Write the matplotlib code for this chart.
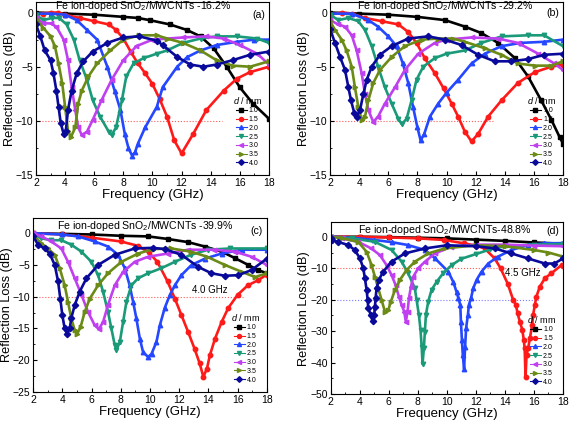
import matplotlib
matplotlib.use("Agg")
import matplotlib.pyplot as plt
from matplotlib.ticker import MultipleLocator

plt.rcParams['font.family'] = ['Liberation Sans', 'DejaVu Sans']
plt.rcParams['mathtext.fontset'] = 'custom'
plt.rcParams['mathtext.rm'] = 'Liberation Sans'
plt.rcParams['mathtext.it'] = 'Liberation Sans:italic'

thickness = ['1.0', '1.5', '2.0', '2.5', '3.0', '3.5', '4.0']
colors = ['#000000', '#ff1a1a', '#2447ff', '#1a9a78', '#c040f0', '#6b8a16', '#0a0a9a']
markers = ['s', 'o', '^', 'v', '<', '>', 'D']

# ---- panel (a): -16.2% ----
a10_f = [2, 4, 6, 8, 9, 9.8, 11.2, 12.35, 13.3, 14.2, 15.1, 16, 16.9, 18]
a10_rl = [0, -0.1, -0.2, -0.4, -0.5, -0.7, -1.1, -1.6, -2.2, -3.3, -5.0, -6.9, -8.4, -9.8]
a15_f = [2, 2.5, 3, 3.5, 4, 5, 6, 7, 7.5, 8, 8.5, 9, 9.5, 10, 10.5, 11, 11.5, 12, 12.8, 13.7, 14.9, 15.8, 16.7, 18]
a15_rl = [-0.2, -0.1, 0, 0, -0.2, -0.5, -0.8, -1.1, -1.6, -2.4, -3.6, -4.7, -5.6, -6.6, -8.0, -9.6, -11.8, -13.0, -11.2, -9.0, -7.2, -6.1, -5.5, -5.0]
a20_f = [2, 3, 4, 4.8, 5.5, 6.2, 6.9, 7.4, 7.8, 8.1, 8.35, 8.6, 8.8, 9.0, 9.5, 10.3, 10.7, 11.7, 12.4, 13.3, 14.4, 15.8, 17, 18]
a20_rl = [-0.1, -0.1, -0.2, -0.7, -1.6, -2.5, -5.0, -7.2, -9.0, -11.2, -12.5, -13.2, -12.9, -12.1, -10.6, -8.7, -6.9, -5.0, -4.1, -3.5, -3.0, -2.7, -2.5, -2.5]
a25_f = [2, 2.5, 3.1, 3.6, 4.1, 4.6, 5.0, 5.5, 5.9, 6.4, 7.0, 7.2, 7.5, 7.9, 8.2, 8.7, 9.4, 10.3, 11, 12.1, 13.3, 14.4, 15.8, 17.2, 18]
a25_rl = [-0.2, -0.7, -0.5, -0.5, -1.1, -2.5, -4.4, -6.2, -8.1, -9.6, -11.0, -11.3, -10.6, -8.1, -5.9, -4.7, -4.2, -3.8, -3.5, -2.8, -2.4, -2.2, -2.2, -2.4, -2.8]
a30_f = [2, 2.5, 3.0, 3.4, 3.9, 4.2, 4.45, 4.7, 4.9, 5.15, 5.5, 5.9, 6.5, 7.2, 8.0, 8.9, 10.0, 12.1, 13.7, 14.9, 16, 17.2, 18]
a30_rl = [-0.5, -1.0, -1.0, -1.3, -2.5, -4.4, -6.9, -9.0, -10.6, -11.3, -11.0, -9.9, -8.1, -6.2, -4.4, -3.1, -2.5, -2.3, -2.2, -2.4, -3.0, -3.8, -4.8]
a35_f = [2, 2.5, 3.0, 3.3, 3.55, 3.8, 4.0, 4.2, 4.4, 4.7, 4.9, 5.15, 5.6, 6.2, 7.1, 8.0, 9.1, 10.3, 11, 12.1, 13.3, 14.4, 15.5, 16.7, 18]
a35_rl = [-0.6, -1.4, -2.2, -3.1, -4.7, -6.5, -8.7, -10.9, -11.5, -10.6, -8.4, -7.2, -5.9, -4.7, -3.5, -2.5, -2.1, -2.1, -2.4, -2.8, -3.5, -4.4, -4.9, -5.0, -4.5]
a40_f = [2, 2.3, 2.6, 3.0, 3.2, 3.4, 3.55, 3.7, 3.9, 4.05, 4.2, 4.45, 4.8, 5.25, 5.9, 6.9, 8.0, 9.1, 10.3, 10.7, 11.7, 12.6, 13.5, 14.4, 15.5, 16.7, 18]
a40_rl = [-1.1, -2.2, -3.5, -4.4, -5.6, -7.2, -8.7, -10.2, -11.2, -10.9, -9.0, -7.2, -5.6, -4.5, -3.6, -2.8, -2.3, -2.2, -2.6, -3.0, -4.1, -4.8, -5.0, -4.8, -4.4, -3.9, -3.6]

# ---- panel (b): -29.2% ----
b10_f = [2, 4, 6, 8, 9.9, 11.26, 12.4, 13.54, 14.69, 15.6, 16.5, 17.2, 17.77, 18]
b10_rl = [0, -0.1, -0.2, -0.4, -0.7, -1.3, -1.9, -2.8, -4.2, -5.9, -8.1, -9.9, -11.5, -12.1]
b15_f = [2, 2.8, 3.5, 4.4, 5.55, 6.7, 7.37, 7.94, 8.5, 9.2, 9.8, 10.35, 10.8, 11.26, 11.72, 12.17, 12.86, 13.78, 14.9, 16.06, 17.2, 18]
b15_rl = [-0.2, 0, -0.1, -0.5, -0.8, -1.1, -1.8, -2.8, -4.2, -5.6, -7.0, -8.4, -9.6, -11.0, -11.9, -11.2, -9.6, -8.1, -6.5, -5.5, -5.0, -4.8]
b20_f = [2, 3.5, 4.63, 5.3, 6.0, 6.57, 7.0, 7.37, 7.7, 8.0, 8.22, 8.47, 8.86, 9.43, 10.0, 10.8, 11.72, 12.63, 13.78, 15.1, 16.7, 18]
b20_rl = [-0.1, -0.1, -0.7, -1.3, -2.2, -3.1, -4.7, -6.5, -8.7, -10.6, -11.8, -11.2, -9.6, -8.4, -7.4, -6.2, -4.7, -3.8, -3.1, -2.8, -2.7, -2.5]
b25_f = [2, 2.57, 3.26, 3.94, 4.4, 4.86, 5.3, 5.77, 6.23, 6.69, 6.92, 7.26, 7.6, 7.94, 8.4, 9.2, 10.0, 11.26, 12.4, 13.78, 15.6, 16.7, 18]
b25_rl = [-0.2, -0.7, -0.5, -0.8, -1.6, -3.1, -5.0, -6.9, -8.4, -9.8, -10.3, -9.8, -8.1, -6.2, -5.0, -4.2, -3.8, -3.5, -2.8, -2.2, -2.1, -2.1, -3.1]
b30_f = [2, 2.57, 3.03, 3.49, 3.83, 4.17, 4.4, 4.63, 4.97, 5.3, 5.77, 6.46, 7.14, 8.06, 9.2, 10.0, 11.72, 13.54, 14.9, 16.3, 17.4, 18]
b30_rl = [-0.7, -1.1, -1.3, -2.1, -3.5, -5.6, -7.5, -9.0, -10.1, -9.6, -8.4, -6.9, -5.3, -3.8, -2.8, -2.5, -2.3, -2.4, -2.8, -3.8, -4.7, -5.3]
b35_f = [2, 2.34, 2.8, 3.14, 3.49, 3.71, 3.94, 4.17, 4.4, 4.63, 4.97, 5.43, 6.23, 7.14, 8.29, 9.43, 10.46, 11.26, 12.63, 13.78, 14.9, 16.06, 17.2, 18]
b35_rl = [-0.8, -1.6, -2.5, -3.5, -5.0, -6.9, -8.7, -9.9, -9.6, -8.1, -6.5, -5.3, -4.1, -3.1, -2.5, -2.4, -2.4, -2.7, -3.3, -3.9, -4.7, -4.9, -4.9, -4.5]
b40_f = [2, 2.34, 2.69, 3.03, 3.26, 3.44, 3.67, 3.83, 4.06, 4.29, 4.52, 4.86, 5.43, 6.23, 7.37, 8.74, 9.9, 11.03, 12.17, 13.3, 14.46, 15.6, 16.7, 18]
b40_rl = [-1.5, -2.8, -4.1, -5.3, -6.9, -8.1, -9.3, -9.6, -9.0, -7.5, -6.2, -5.0, -3.9, -3.1, -2.4, -2.2, -2.5, -3.0, -3.9, -4.5, -4.5, -4.3, -3.9, -3.8]

# ---- panel (c): -39.9% ----
c10_f = [2, 4, 6, 8, 9.87, 11.2, 12.6, 13.76, 14.9, 15.8, 16.73, 17.4, 18]
c10_rl = [0, -0.1, -0.2, -0.4, -0.5, -0.9, -1.4, -2.1, -2.9, -3.9, -5.0, -5.8, -6.3]
c15_f = [2, 4, 6, 8, 9.2, 9.9, 10.5, 11.2, 11.7, 12.15, 12.6, 13.05, 13.4, 13.65, 13.9, 14.1, 14.45, 14.9, 15.35, 16.0, 16.7, 17.4, 18]
c15_rl = [0, -0.2, -0.7, -1.3, -2.0, -3.0, -4.5, -7.6, -10.3, -12.9, -15.5, -18.2, -20.5, -22.6, -21.3, -19.2, -16.6, -14.0, -11.8, -9.7, -8.2, -7.4, -6.5]
c20_f = [2, 4, 5.07, 6.21, 7.12, 7.81, 8.27, 8.6, 8.84, 9.06, 9.3, 9.52, 9.87, 10.1, 10.44, 10.67, 11.0, 11.36, 11.7, 12.15, 12.84, 13.76, 14.9, 16.3, 18]
c20_rl = [0, -0.2, -0.5, -1.3, -2.1, -3.4, -5.5, -8.2, -10.8, -13.4, -16.6, -18.7, -19.5, -19.0, -17.1, -14.5, -11.8, -9.7, -8.2, -6.6, -5.0, -4.0, -3.2, -2.6, -2.6]
c25_f = [2, 2.55, 3.23, 3.92, 4.6, 5.3, 5.98, 6.44, 6.78, 7.12, 7.35, 7.58, 7.7, 7.93, 8.15, 8.38, 8.72, 9.18, 9.87, 10.78, 11.7, 12.8, 13.96, 15.5, 18]
c25_rl = [-0.2, -0.8, -1.1, -1.1, -1.8, -2.9, -4.5, -6.6, -9.2, -12.4, -15.0, -17.6, -18.4, -17.1, -14.0, -10.8, -8.2, -7.1, -6.3, -5.5, -4.5, -3.4, -2.6, -2.4, -2.4]
c30_f = [2, 2.55, 3.23, 3.92, 4.38, 4.84, 5.3, 5.75, 6.21, 6.49, 6.78, 7.12, 7.58, 8.15, 8.95, 9.87, 11.2, 12.6, 14.4, 15.8, 16.95, 18]
c30_rl = [0, -0.5, -1.3, -2.4, -4.5, -7.1, -9.7, -12.4, -14.5, -15.1, -14.0, -11.3, -8.2, -6.1, -4.5, -3.7, -3.2, -2.6, -2.6, -2.9, -3.7, -5.0]
c35_f = [2, 2.55, 3.0, 3.47, 3.81, 4.15, 4.38, 4.6, 4.84, 5.02, 5.25, 5.52, 5.87, 6.44, 7.12, 8.04, 9.18, 10.2, 11.45, 12.8, 13.9, 15.13, 16.3, 17.2, 18]
c35_rl = [-0.3, -1.6, -2.4, -3.4, -5.5, -8.2, -10.8, -13.4, -15.3, -15.8, -14.7, -12.4, -10.3, -8.2, -6.3, -4.5, -3.2, -2.5, -2.4, -2.9, -3.7, -5.0, -6.1, -6.9, -6.3]
c40_f = [2, 2.32, 2.78, 3.12, 3.47, 3.7, 3.85, 3.99, 4.15, 4.31, 4.5, 4.6, 4.84, 5.18, 5.64, 6.44, 7.58, 8.95, 10.2, 11.0, 12.15, 13.3, 14.2, 15.13, 16.05, 16.95, 18]
c40_rl = [-0.5, -1.8, -2.4, -3.2, -5.0, -7.6, -10.3, -12.9, -15.0, -15.8, -15.0, -13.4, -11.3, -9.2, -7.1, -5.0, -3.4, -2.4, -2.3, -2.5, -3.4, -5.3, -6.3, -6.7, -6.6, -5.8, -4.0]

# ---- panel (d): -48.8% ----
d10_f = [2, 4, 6, 8, 10, 12, 14, 16, 18]
d10_rl = [0, 0, -0.1, -0.3, -0.5, -0.9, -1.3, -1.8, -2.2]
d15_f = [2, 4, 6, 8, 9.8, 11.2, 12.0, 12.6, 13.3, 13.7, 14.2, 14.57, 14.76, 14.87, 15.03, 15.2, 15.3, 15.36, 15.42, 15.49, 15.6, 15.72, 15.88, 15.94, 16.06, 16.17, 16.4, 16.75, 17.2, 17.9, 18]
d15_rl = [0, 0, -0.2, -0.5, -1.0, -2.1, -2.8, -3.7, -6.9, -10.0, -15.0, -20.1, -21.7, -24.3, -27.0, -29.6, -32.8, -35.5, -44.6, -37.6, -35.4, -32.3, -28.0, -24.9, -21.7, -19.0, -15.9, -13.2, -11.6, -9.0, -9.3]
d20_f = [2, 3.5, 5, 6.2, 7.3, 8.5, 9.2, 10.1, 10.44, 10.67, 10.8, 10.93, 10.97, 11.04, 11.1, 11.19, 11.26, 11.33, 11.45, 11.52, 11.66, 11.82, 12.05, 12.39, 12.85, 13.53, 14.45, 15.6, 16.7, 18]
d20_rl = [0, -0.3, -1.0, -1.7, -2.6, -4.2, -6.9, -11.1, -14.3, -17.5, -19.6, -21.7, -27.0, -32.8, -37.5, -42.1, -34.9, -29.0, -24.9, -21.7, -19.6, -16.4, -13.7, -11.1, -8.5, -6.3, -4.2, -2.6, -2.1, -2.0]
d25_f = [2, 3.5, 5.05, 6.2, 6.89, 7.34, 7.8, 7.92, 8.08, 8.19, 8.27, 8.33, 8.42, 8.49, 8.56, 8.72, 8.95, 9.3, 9.75, 10.33, 11, 12, 13, 14, 16, 18]
d25_rl = [0, -0.5, -1.6, -4.2, -7.9, -11.6, -16.4, -20.1, -24.9, -29.6, -35.0, -40.5, -35.4, -30.2, -24.9, -20.6, -16.9, -14.3, -11.6, -9.0, -7.0, -5.5, -4.0, -3.0, -2.5, -2.3]
d30_f = [2, 2.8, 3.9, 4.8, 5.39, 5.85, 6.2, 6.47, 6.7, 6.89, 7.07, 7.18, 7.3, 7.39, 7.53, 7.69, 8.03, 8.5, 9.18, 10.3, 12, 14, 16, 18]
d30_rl = [0, -0.5, -1.6, -3.7, -5.8, -9.0, -12.2, -15.3, -19.0, -21.7, -23.8, -27.0, -23.8, -19.6, -15.9, -12.7, -10.0, -7.9, -5.3, -3.2, -2.5, -2.5, -2.8, -3.0]
d35_f = [2, 2.8, 3.9, 4.48, 4.82, 5.05, 5.28, 5.51, 5.74, 5.97, 6.15, 6.43, 6.77, 7.23, 7.8, 8.72, 9.86, 12, 14, 16, 17, 18]
d35_rl = [0, -0.5, -1.6, -4.8, -9.0, -12.7, -16.4, -20.1, -23.8, -23.3, -20.6, -16.9, -13.7, -10.6, -7.9, -5.3, -3.7, -2.7, -3.0, -4.2, -5.0, -6.3]
d40_f = [2, 2.1, 2.5, 3.2, 3.67, 4.02, 4.25, 4.36, 4.48, 4.55, 4.59, 4.77, 4.89, 5.0, 5.05, 5.1, 5.16, 5.32, 5.62, 6.2, 7.11, 8.5, 10, 12, 13.3, 14.45, 15.6, 16.75, 17.4, 18]
d40_rl = [-0.5, -1.0, -1.6, -2.6, -4.2, -6.9, -10.0, -13.2, -16.9, -20.1, -22.7, -24.9, -26.8, -24.9, -22.2, -19.6, -16.4, -13.7, -11.1, -7.9, -5.3, -3.7, -2.7, -3.0, -3.7, -5.3, -6.9, -8.5, -8.5, -6.9]

panels = [
    dict(pos=[0.063, 0.589, 0.408, 0.407], ylim=(-15, 1.0), ystep=5,
         title='Fe ion-doped SnO$_2$/MWCNTs -16.2%', tx=0.46, ty=0.975, tag='(a)', tagy=0.925,
         data=[(a10_f, a10_rl), (a15_f, a15_rl), (a20_f, a20_rl), (a25_f, a25_rl),
               (a30_f, a30_rl), (a35_f, a35_rl), (a40_f, a40_rl)],
         red_end=14.8, blue=None, note=None),
    dict(pos=[0.578, 0.589, 0.408, 0.407], ylim=(-15, 1.0), ystep=5,
         title='Fe ion-doped SnO$_2$/MWCNTs -29.2%', tx=0.494, ty=0.975, tag='(b)', tagy=0.935,
         data=[(b10_f, b10_rl), (b15_f, b15_rl), (b20_f, b20_rl), (b25_f, b25_rl),
               (b30_f, b30_rl), (b35_f, b35_rl), (b40_f, b40_rl)],
         red_end=13.2, blue=None, note=None),
    dict(pos=[0.0583, 0.0798, 0.409, 0.4085], ylim=(-25, 2.4), ystep=5,
         title='Fe ion-doped SnO$_2$/MWCNTs -39.9%', tx=0.481, ty=0.954, tag='(c)', tagy=0.927,
         data=[(c10_f, c10_rl), (c15_f, c15_rl), (c20_f, c20_rl), (c25_f, c25_rl),
               (c30_f, c30_rl), (c35_f, c35_rl), (c40_f, c40_rl)],
         red_end=16.4, blue=None, note=('4.0 GHz', 14.1, -8.9)),
    dict(pos=[0.579, 0.0751, 0.407, 0.403], ylim=(-50, 4.6), ystep=10,
         title='Fe ion-doped SnO$_2$/MWCNTs-48.8%', tx=0.492, ty=0.955, tag='(d)', tagy=0.951,
         data=[(d10_f, d10_rl), (d15_f, d15_rl), (d20_f, d20_rl), (d25_f, d25_rl),
               (d30_f, d30_rl), (d35_f, d35_rl), (d40_f, d40_rl)],
         red_end=16.4, blue=(-20, 16.4), note=('4.5 GHz', 15.2, -11.6)),
]

fig = plt.figure(figsize=(5.71, 4.26), dpi=100)

for p in panels:
    ax = fig.add_axes(p['pos'])
    ax.plot([2, p['red_end']], [-10, -10], ls=':', color='#ff5a5a', lw=0.8, zorder=1)
    if p['blue'] is not None:
        ax.plot([2, p['blue'][1]], [p['blue'][0]] * 2, ls=':', color='#7a7aff', lw=0.8, zorder=1)
    for (f, rl), lab, c, m in zip(p['data'], thickness, colors, markers):
        ax.plot(f, rl, color=c, marker=m, ms=3.2, lw=1.9, label=lab, zorder=2)

    ax.set_xlim(2, 18)
    ax.set_ylim(*p['ylim'])
    ax.xaxis.set_major_locator(MultipleLocator(2))
    ax.xaxis.set_minor_locator(MultipleLocator(1))
    ax.yaxis.set_major_locator(MultipleLocator(p['ystep']))
    ax.yaxis.set_minor_locator(MultipleLocator(p['ystep'] / 2))
    ax.tick_params(which='both', direction='in', labelsize=7.5, pad=2)
    ax.tick_params(which='major', length=3)
    ax.tick_params(which='minor', length=1.6)
    ax.set_xlabel('Frequency (GHz)', fontsize=9.5, labelpad=1)
    ax.set_ylabel('Reflection Loss (dB)', fontsize=9.2, labelpad=0)

    ax.text(p['tx'], p['ty'], p['title'], transform=ax.transAxes,
            ha='center', va='center', fontsize=7.6)
    ax.text(0.957, p['tagy'], p['tag'], transform=ax.transAxes,
            ha='center', va='center', fontsize=7.6)
    if p['note'] is not None:
        ax.text(p['note'][1], p['note'][2], p['note'][0], ha='center',
                va='center', fontsize=7)

    leg = ax.legend(loc='lower right', bbox_to_anchor=(0.99, 0.02), frameon=False,
                    fontsize=5, title='$d$ / mm', title_fontsize=6.5,
                    handlelength=1.6, handletextpad=0.3, labelspacing=0.25,
                    borderpad=0.2, markerscale=0.9)
    for ln in leg.get_lines():
        ln.set_linewidth(0.8)

fig.savefig('out.png', dpi=100)
